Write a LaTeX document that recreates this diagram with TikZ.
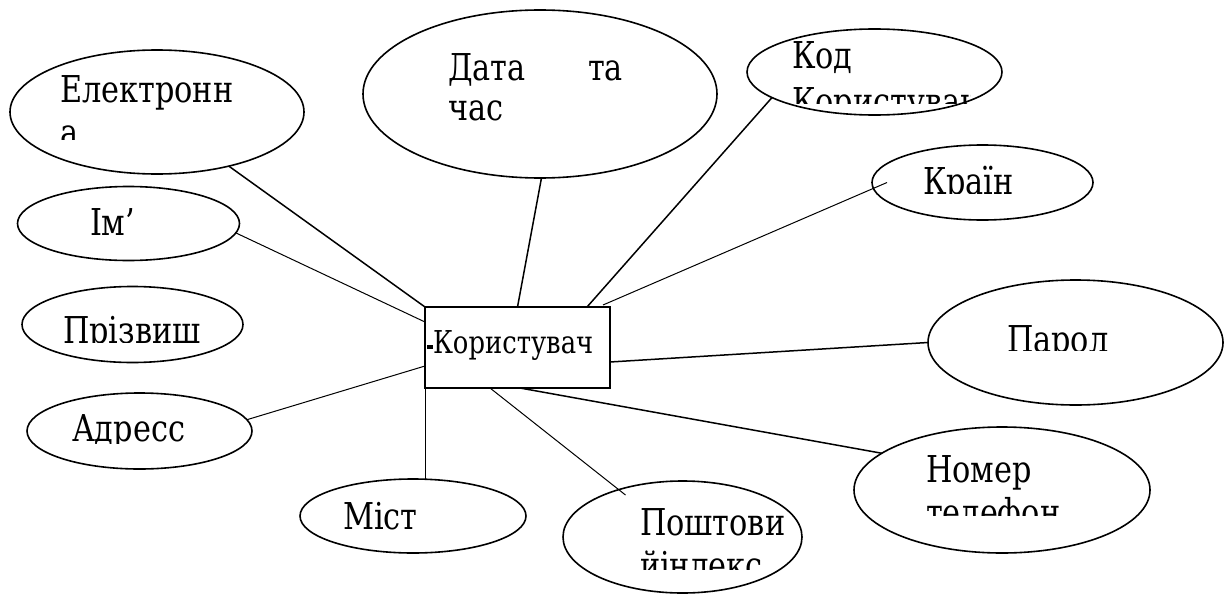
\documentclass[tikz,border=0pt]{standalone}
\usepackage{fontspec}
\setmainfont{DejaVu Serif}
\newfontfamily\labelfont{DejaVu Serif}[FakeStretch=0.82]
\usetikzlibrary{shapes.geometric}
\begin{document}
\begin{tikzpicture}[x=1pt,y=-1pt,
  attr/.style={draw, ellipse, line width=1.6pt, inner sep=0pt, outer sep=0pt},
  entity/.style={draw, rectangle, line width=1.7pt, inner sep=0pt, outer sep=0pt},
  lbl/.style={anchor=base west, inner sep=0pt, outer sep=0pt,
              font=\labelfont\fontsize{37}{43}\selectfont},
  elbl/.style={anchor=base west, inner sep=0pt, outer sep=0pt,
              font=\labelfont\fontsize{31.5}{37}\selectfont},
  thick link/.style={line width=1.5pt},
  thin link/.style={line width=1pt}]
\useasboundingbox (0,0) rectangle (1225,594);

% entity
\node[entity, minimum width=185pt, minimum height=81pt] (user) at (517.5,347.5) {};
\node[elbl] (tuser) at (433,353) {Користувач};
\fill (427,344.5) rectangle (433,348.5);

% attributes
\node[attr, minimum width=294pt, minimum height=124pt] (el)   at (157,112) {};
\node[attr, minimum width=222pt, minimum height=74pt]  (im)   at (128.5,223.5) {};
\node[attr, minimum width=221pt, minimum height=76pt]  (pr)   at (132.5,324.5) {};
\node[attr, minimum width=225pt, minimum height=76pt]  (adr)  at (139.5,431) {};
\node[attr, minimum width=226pt, minimum height=74pt]  (mist) at (413,516) {};
\node[attr, minimum width=239pt, minimum height=112pt] (post) at (682.5,537) {};
\node[attr, minimum width=296pt, minimum height=126pt] (nom)  at (1002,490) {};
\node[attr, minimum width=295pt, minimum height=125pt] (par)  at (1075.5,342.5) {};
\node[attr, minimum width=221pt, minimum height=75pt]  (kr)   at (982.5,182.5) {};
\node[attr, minimum width=255pt, minimum height=86pt]  (kod)  at (874.5,72) {};
\node[attr, minimum width=354pt, minimum height=168pt] (data) at (540,94) {};

% attribute labels, cut off by their text frames
\begin{scope}
  \clip (40,60) rectangle (290,139);
  \node[lbl] (tel1) at (60,102) {Електронн};
  \node[lbl] (tel2) at (60,145) {а};
\end{scope}
\node[lbl] (tim) at (90,235) {Ім’};
\begin{scope}
  \clip (40,290) rectangle (240,342);
  \node[lbl] (tpr) at (63,343) {Прізвищ};
\end{scope}
\begin{scope}
  \clip (50,395) rectangle (240,443);
  \node[lbl] (tadr) at (72,441) {Адресс};
\end{scope}
\node[lbl] (tmist) at (343,529) {Міст};
\begin{scope}
  \clip (620,490) rectangle (800,569);
  \node[lbl] (tpost1) at (640,535) {Поштови};
  \node[lbl] (tpost2) at (640,578) {йіндекс};
\end{scope}
\begin{scope}
  \clip (900,440) rectangle (1100,515);
  \node[lbl] (tnom1) at (926,482) {Номер};
  \node[lbl] (tnom2) at (926,525) {телефон};
\end{scope}
\begin{scope}
  \clip (990,300) rectangle (1150,350);
  \node[lbl] (tpar) at (1007,352) {Парол};
\end{scope}
\begin{scope}
  \clip (900,150) rectangle (1080,193);
  \node[lbl] (tkr) at (923,194) {Країн};
\end{scope}
\begin{scope}
  \clip (770,30) rectangle (970,103);
  \node[lbl] (tkod1) at (792,68) {Код};
  \node[lbl] (tkod2) at (792,114) {Користувач};
\end{scope}
\node[lbl] (tdata1) at (448,80) {Дата};
\node[lbl] (tdata2) at (588,80) {та};
\node[lbl] (tdata3) at (448,120) {час};

% connectors
\draw[thick link] (el.-37.5) -- (user.north west);
\draw[thin link]  (im.-5) -- ([yshift=-15pt]user.north west);
\draw[thin link]  (adr.6) -- ([yshift=-59pt]user.north west);
\draw[thin link]  ([yshift=-55pt]user.north west) -- (user.west |- mist.north);
\draw[thick link] (data.-89) -- (user.north);
\draw[thick link] (kod.194.4) -- ([xshift=69.5pt]user.north);
\draw[thin link]  ([xshift=-7pt,yshift=2pt]user.north east) -- ([xshift=15pt]kr.west);
\draw[thick link] ([yshift=-55pt]user.north east) -- (par.west);
\draw[thick link] ([xshift=2.5pt]user.south) -- (nom.163);
\draw[thin link]  ([xshift=-27.5pt]user.south) -- ([xshift=-57pt,yshift=-14pt]post.north);
\end{tikzpicture}
\end{document}
